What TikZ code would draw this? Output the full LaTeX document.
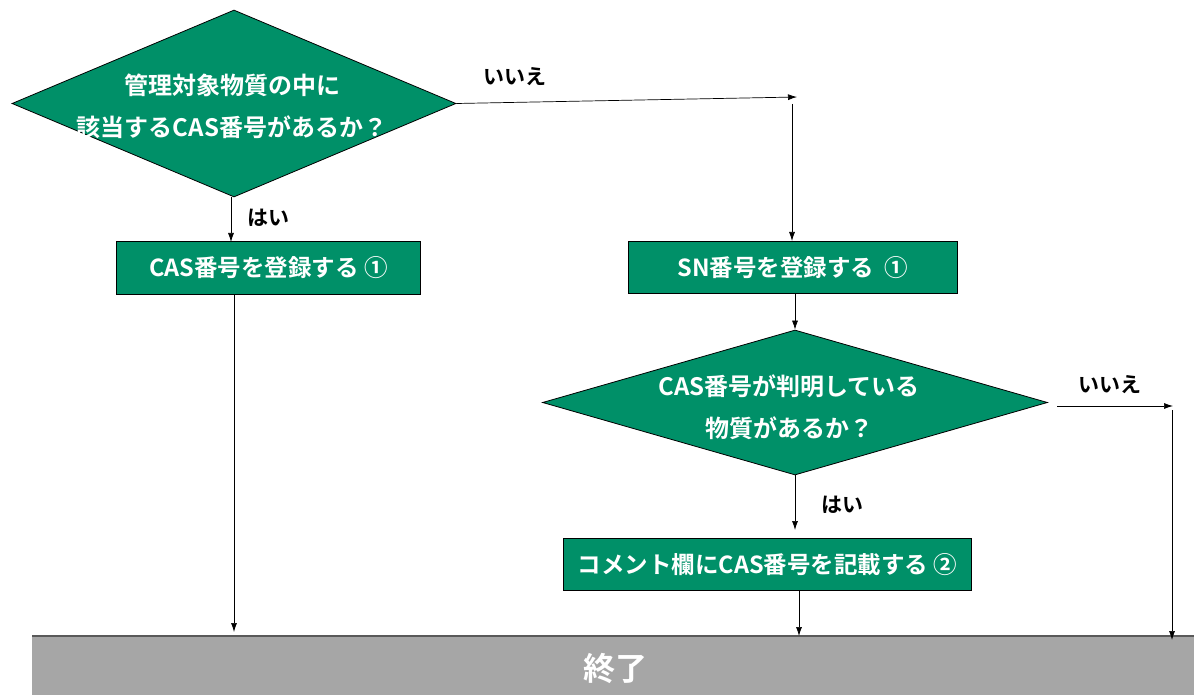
\documentclass[tikz,border=0pt]{standalone}
\usepackage{fontspec}
\usetikzlibrary{shapes.geometric,arrows.meta}
\newfontfamily\jp{Noto Sans CJK JP}[BoldFont={Noto Sans CJK JP Bold}]
\definecolor{flowgreen}{RGB}{0,144,104}
\definecolor{endgray}{RGB}{166,166,166}
\tikzset{
  decision/.style={diamond, draw=black, line width=0.8pt, fill=flowgreen, inner sep=0pt},
  dtext/.style={text=white, font=\jp\bfseries\fontsize{24}{42}\selectfont, align=center, inner sep=0pt},
  procbox/.style={rectangle, draw=black, line width=0.8pt, fill=flowgreen, text=white,
    font=\jp\bfseries\fontsize{23.5}{26}\selectfont, inner sep=0pt, anchor=north west},
  lbl/.style={font=\jp\bfseries\fontsize{21}{24}\selectfont, text=black},
  arr/.style={draw=black, line width=0.7pt, -{Latex[length=9pt,width=6pt]}},
  ln/.style={draw=black, line width=0.7pt}
}
\begin{document}
\begin{tikzpicture}[x=1pt,y=-1pt]
\useasboundingbox (0,0) rectangle (1194,695);
% decisions
\node[decision, aspect=2.374, minimum width=444pt, minimum height=187pt] (d1) at (234,103.5) {};
\node[dtext] (t1) at (232,106) {管理対象物質の中に\\該当するCAS番号があるか？};
\node[decision, aspect=3.483, minimum width=505pt, minimum height=145pt] (d2) at (795,402.5) {};
\node[dtext] (t2) at (789,407) {CAS番号が判明している\\物質があるか？};
% boxes
\node[procbox, minimum width=304pt, minimum height=53pt] (b1) at (116,241) {CAS番号を登録する ①};
\node[procbox, minimum width=329pt, minimum height=52pt] (b2) at (628,241) {SN番号を登録する\ \ ①};
\node[procbox, minimum width=408pt, minimum height=52pt] (b3) at (563,538) {コメント欄にCAS番号を記載する ②};
% end bar
\node[rectangle, fill=endgray, text=white, font=\jp\bfseries\fontsize{32}{36}\selectfont,
  minimum width=1166pt, minimum height=64pt, inner sep=0pt, anchor=north west] (end) at (32,636) {終了};
\draw[draw=black!65, line width=1.5pt] (end.north west) -- (end.north east);
% coordinates
\coordinate (c1) at (797,97);
\coordinate (c2) at (792,104);
\coordinate (c3) at (1057,406);
\coordinate (c4) at (1173,406);
\coordinate (c5) at (1172,410);
% connectors
\draw[arr] (d1.east) -- (c1);
\draw[arr] (c2) -- (c2 |- b2.north);
\draw[arr] (d1.south -| 231,0) -- (231,242);
\draw[arr] (b2.south -| d2.north) -- (d2.north);
\draw[arr] (d2.south) -- (d2.south |- 0,530);
\draw[arr] (c3) -- (c4);
\draw[arr] (c5) -- (c5 |- 0,640);
\draw[arr] (d1.south |- b1.south) -- (d1.south |- 0,632);
\draw[arr] (b3.south -| d2.south) ++(4,0) coordinate (c6) -- (c6 |- end.north);
% labels
\node[lbl] (l1) at (515,77) {いいえ};
\node[lbl] (l2) at (268,218) {はい};
\node[lbl] (l3) at (1110,385) {いいえ};
\node[lbl] (l4) at (842,505) {はい};
\end{tikzpicture}
\end{document}
